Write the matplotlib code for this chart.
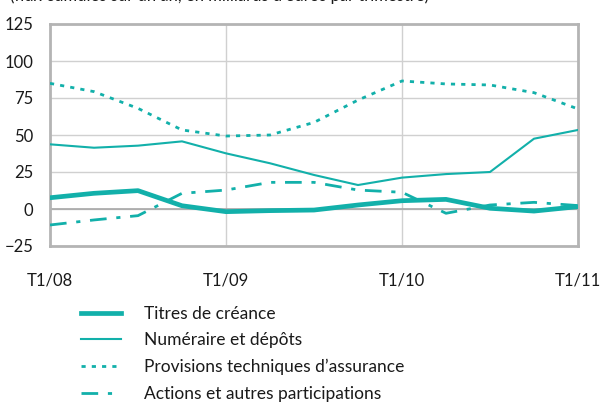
import matplotlib
matplotlib.use("Agg")
import matplotlib.pyplot as plt

plt.rcParams['font.family'] = ['Lato', 'DejaVu Sans']

quarters = list(range(13))
tick_pos = [0, 4, 8, 12]
tick_labels = ["T1/08", "T1/09", "T1/10", "T1/11"]

titres = [7.6, 10.6, 12.4, 2.2, -1.8, -1.1, -0.7, 2.7, 5.6, 6.5, 0.5, -1.4, 1.6]
numeraire = [43.7, 41.4, 42.8, 45.7, 37.6, 30.9, 23.0, 16.2, 21.2, 23.6, 25.0, 47.5, 53.4]
provisions = [84.9, 79.3, 68.0, 53.4, 49.3, 50.0, 58.5, 73.6, 86.5, 84.5, 83.8, 78.6, 67.6]
actions = [-10.8, -7.4, -4.5, 10.6, 12.8, 18.0, 18.0, 12.8, 11.3, -2.9, 2.7, 4.5, 2.3]

labels = ["Titres de créance", "Numéraire et dépôts",
          "Provisions techniques d\u2019assurance", "Actions et autres participations"]

C = "#12b0aa"
fig = plt.figure(figsize=(6.02, 4.07), dpi=100)
W, H = 602, 407
ax = fig.add_axes([50 / W, 1 - 246 / H, 528 / W, 222 / H])

l1, = ax.plot(quarters, titres, color=C, lw=3.4, solid_joinstyle='round', zorder=5)
l2, = ax.plot(quarters, numeraire, color=C, lw=1.5, zorder=5)
l3, = ax.plot(quarters, provisions, color=C, lw=2.0, linestyle=(0, (1.5, 2.2)), zorder=5)
l4, = ax.plot(quarters, actions, color=C, lw=2.0, linestyle=(0, (6, 3.5, 1.5, 3.5)), zorder=5)

ax.set_xlim(0, 12)
ax.set_ylim(-25, 125)
ax.set_yticks([-25, 0, 25, 50, 75, 100, 125])
ax.set_xticks(tick_pos)
ax.set_xticklabels(tick_labels)
ax.grid(True, color="#d0d0d0", lw=1.0)
ax.axhline(0, color="#a8a8a8", lw=1.2, zorder=2)
for s in ax.spines.values():
    s.set_color("#b4b4b4")
    s.set_linewidth(2.0)
ax.tick_params(length=0, labelsize=12, colors="#1a1a1a")
ax.tick_params(axis='x', pad=19)
ax.tick_params(axis='y', pad=12)

fig.legend([l1, l2, l3, l4], labels, loc='upper left',
           bbox_to_anchor=(81 / W, 1 - 306 / H), frameon=False,
           fontsize=12.5, handlelength=2.3, handletextpad=1.35,
           labelspacing=0.6, borderaxespad=0, borderpad=0,
           labelcolor="#1a1a1a")

fig.text(10 / W, 1 - 1 / H, "(flux cumulés sur un an, en milliards d\u2019euros par trimestre)",
         fontsize=12, color="#1a1a1a", va='baseline', ha='left')

fig.savefig("out.png", dpi=100)
